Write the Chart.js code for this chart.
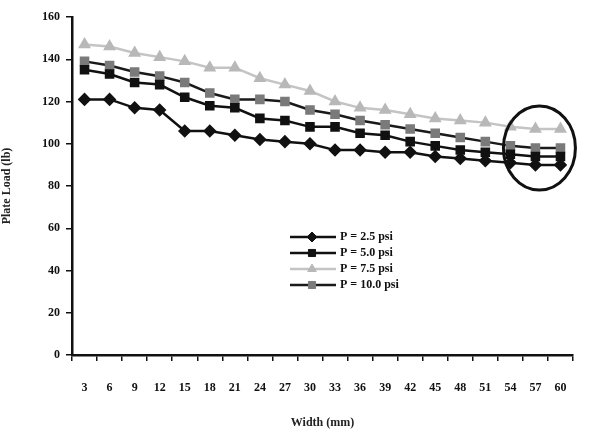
<!DOCTYPE html>
<html>
<head>
<meta charset="utf-8">
<script src="https://cdn.jsdelivr.net/npm/chart.js@4"></script>
<style>
  html, body { margin: 0; padding: 0; background: #fff; }
  #wrap { width: 591px; height: 434px; }
</style>
</head>
<body>
<div id="wrap"><canvas id="plateChart"></canvas></div>
<script>
const widths = ['3', '6', '9', '12', '15', '18', '21', '24', '27', '30', '33', '36', '39', '42', '45', '48', '51', '54', '57', '60'];
const load25 = [121, 121, 117, 116, 106, 106, 104, 102, 101, 100, 97, 97, 96, 96, 94, 93, 92, 91, 90, 90];
const load50 = [135, 133, 129, 128, 122, 118, 117, 112, 111, 108, 108, 105, 104, 101, 99, 97, 96, 95, 94, 94];
const load75 = [147, 146, 143, 141, 139, 136, 136, 131, 128, 125, 120, 117, 116, 114, 112, 111, 110, 108, 107, 107];
const load100 = [139, 137, 134, 132, 129, 124, 121, 121, 120, 116, 114, 111, 109, 107, 105, 103, 101, 99, 98, 98];
const seriesNames = ['P = 2.5 psi', 'P = 5.0 psi', 'P = 7.5 psi', 'P = 10.0 psi'];
const yTicks = [0, 20, 40, 60, 80, 100, 120, 140, 160];

const serif = '"Liberation Serif", "DejaVu Serif", serif';

// legend drawn as line + marker + label, inside the plot
const lineLegend = {
    id: 'lineLegend',
    afterDatasetsDraw(chart) {
        const ctx = chart.ctx;
        const x0 = 290, y0 = 237, gap = 16;
        chart.data.datasets.forEach((ds, i) => {
            const y = y0 + i * gap;
            ctx.save();
            ctx.strokeStyle = ds.borderColor;
            ctx.lineWidth = ds.borderWidth;
            ctx.beginPath();
            ctx.moveTo(x0, y);
            ctx.lineTo(x0 + 46, y);
            ctx.stroke();
            ctx.fillStyle = ds.pointBackgroundColor;
            ctx.strokeStyle = ds.pointBorderColor;
            ctx.lineWidth = 1;
            Chart.helpers.drawPoint(ctx, {
                pointStyle: ds.pointStyle,
                radius: ds.pointRadius,
                borderWidth: 1
            }, x0 + 22, y);
            ctx.fillStyle = '#111';
            ctx.font = 'bold 12px ' + serif;
            ctx.textBaseline = 'middle';
            ctx.fillText(ds.label, x0 + 50, y);
            ctx.restore();
        });
    }
};

// circled end region
const endCircle = {
    id: 'endCircle',
    afterDatasetsDraw(chart) {
        const ctx = chart.ctx;
        const xs = chart.scales.x, ys = chart.scales.y;
        const cx = (xs.getPixelForValue(17) + xs.getPixelForValue(19)) / 2 + 4;
        const cy = ys.getPixelForValue(98);
        ctx.save();
        ctx.strokeStyle = '#111';
        ctx.lineWidth = 3;
        ctx.beginPath();
        ctx.ellipse(cx, cy, 36, 42, 0, 0, Math.PI * 2);
        ctx.stroke();
        ctx.restore();
    }
};

document.addEventListener('DOMContentLoaded', () => {
    const pointOpts = (color, style) => ({
        pointStyle: style,
        pointRadius: 5,
        pointBackgroundColor: color,
        pointBorderColor: color,
        backgroundColor: color
    });

    new Chart(document.getElementById('plateChart'), {
        type: 'line',
        data: {
            labels: widths,
            datasets: [
                Object.assign({ label: seriesNames[0], data: load25, borderColor: '#111', borderWidth: 2.5 }, pointOpts('#111', 'rectRot')),
                Object.assign({ label: seriesNames[1], data: load50, borderColor: '#111', borderWidth: 2.5 }, pointOpts('#111', 'rect')),
                Object.assign({ label: seriesNames[2], data: load75, borderColor: '#c4c4c4', borderWidth: 2.5 }, pointOpts('#b8b8b8', 'triangle')),
                Object.assign({ label: seriesNames[3], data: load100, borderColor: '#1a1a1a', borderWidth: 2.5 }, pointOpts('#7a7a7a', 'rect'))
            ]
        },
        options: {
            responsive: true,
            maintainAspectRatio: false,
            animation: false,
            layout: { padding: { left: 0, right: 18, top: 17, bottom: 2 } },
            plugins: {
                legend: { display: false },
                tooltip: { enabled: false }
            },
            scales: {
                x: {
                    offset: true,
                    grid: { offset: true, drawOnChartArea: false, color: '#111', tickLength: 6, lineWidth: 1.5 },
                    border: { color: '#111', width: 2.5 },
                    ticks: { color: '#111', padding: 20, maxRotation: 0, autoSkip: false, font: { family: serif, size: 12, weight: 'bold' } },
                    title: { display: true, text: 'Width (mm)', color: '#222', padding: { top: 6, bottom: 2 }, font: { family: serif, size: 12, weight: 'bold' } },
                    afterFit(scale) { scale.height = 77; }
                },
                y: {
                    min: 0,
                    max: 160,
                    afterBuildTicks(scale) { scale.ticks = yTicks.map(v => ({ value: v })); },
                    grid: { drawOnChartArea: false, color: '#111', tickLength: 6, lineWidth: 1.5 },
                    border: { color: '#111', width: 2.5 },
                    ticks: { color: '#111', padding: 6, font: { family: serif, size: 12, weight: 'bold' } },
                    title: { display: true, text: 'Plate Load (lb)', color: '#222', padding: { top: 0, bottom: 4 }, font: { family: serif, size: 12, weight: 'bold' } },
                    afterFit(scale) { scale.width = 72; }
                }
            }
        },
        plugins: [lineLegend, endCircle]
    });
});
</script>
</body>
</html>
